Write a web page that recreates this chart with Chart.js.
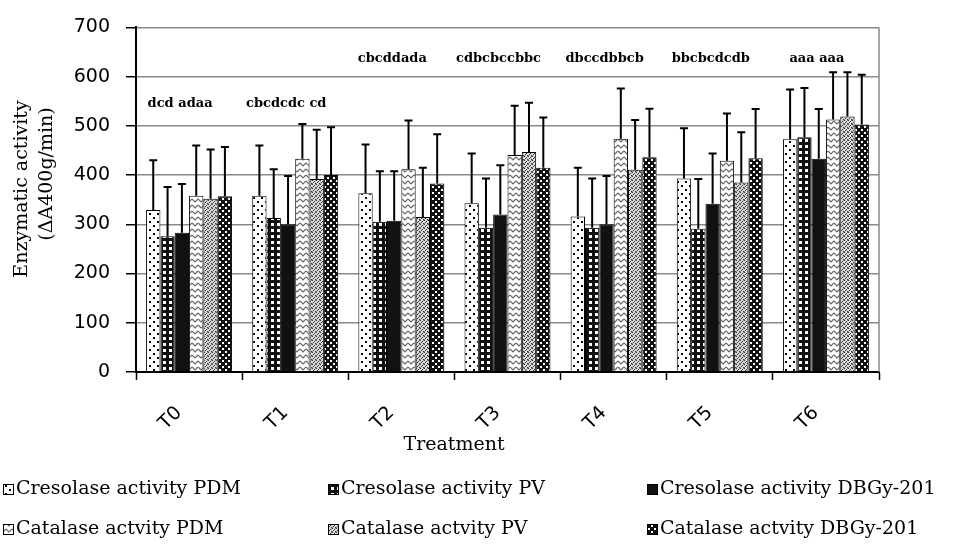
<!DOCTYPE html>
<html>
<head>
<meta charset="utf-8">
<script src="https://cdn.jsdelivr.net/npm/chart.js@4.4.1/dist/chart.umd.min.js"></script>
<style>
  body { margin: 0; background: #fff; }
  canvas { display: block; }
</style>
</head>
<body>
<canvas id="chart" width="963" height="544"></canvas>
<script>
var categories = ['T0', 'T1', 'T2', 'T3', 'T4', 'T5', 'T6'];
var seriesNames = [
  'Cresolase activity PDM', 'Cresolase activity PV', 'Cresolase activity DBGy-201',
  'Catalase actvity PDM', 'Catalase actvity PV', 'Catalase actvity DBGy-201'
];

// means
var cresolasePDM  = [329, 358, 363, 343, 316, 393, 473];
var cresolasePV   = [276, 313, 305, 293, 293, 291, 477];
var cresolaseDBGy = [283, 300, 307, 320, 300, 342, 433];
var catalasePDM   = [358, 433, 412, 441, 474, 429, 513];
var catalasePV    = [352, 392, 315, 447, 411, 385, 519];
var catalaseDBGy  = [357, 400, 383, 415, 436, 434, 503];

// upper error bar lengths
var sdCresolasePDM  = [101, 102, 99, 101, 99, 102, 101];
var sdCresolasePV   = [100, 99, 103, 100, 100, 101, 100];
var sdCresolaseDBGy = [99, 98, 101, 100, 98, 102, 101];
var sdCatalasePDM   = [102, 71, 99, 100, 102, 96, 96];
var sdCatalasePV    = [100, 100, 100, 100, 101, 102, 90];
var sdCatalaseDBGy  = [100, 97, 100, 102, 99, 100, 101];

// significance letters above each treatment
var letterLabels = ['dcd adaa', 'cbcdcdc cd', 'cbcddada', 'cdbcbccbbc', 'dbccdbbcb', 'bbcbcdcdb', 'aaa aaa'];
var letterLevels = [545, 545, 636, 636, 636, 636, 636];

function makePattern(size, bg, draw) {
  var c = document.createElement('canvas');
  c.width = size; c.height = size;
  var g = c.getContext('2d');
  g.fillStyle = bg;
  g.fillRect(0, 0, size, size);
  draw(g);
  return g.createPattern(c, 'repeat');
}

var fills = [
  makePattern(8, '#fff', function(g){
    g.fillStyle = '#000';
    g.fillRect(1, 1, 2, 2);
    g.fillRect(5, 5, 2, 2);
  }),
  makePattern(6, '#111', function(g){
    g.fillStyle = '#fff';
    g.fillRect(1, 1, 3, 3);
  }),
  '#111',
  makePattern(6, '#fff', function(g){
    g.strokeStyle = '#666';
    g.lineWidth = 1.2;
    g.beginPath();
    g.moveTo(0, 1); g.lineTo(3, 4); g.lineTo(6, 1);
    g.stroke();
  }),
  makePattern(4, '#ddd', function(g){
    g.fillStyle = '#333';
    g.fillRect(0, 0, 1, 1);
    g.fillRect(2, 1, 1, 1);
    g.fillRect(1, 2, 1, 1);
    g.fillRect(3, 3, 1, 1);
    g.fillStyle = '#888';
    g.fillRect(3, 0, 1, 1);
    g.fillRect(0, 3, 1, 1);
  }),
  makePattern(6, '#111', function(g){
    g.fillStyle = '#fff';
    g.fillRect(0, 0, 2, 2);
    g.fillRect(3, 3, 2, 2);
  })
];

var values = [cresolasePDM, cresolasePV, cresolaseDBGy, catalasePDM, catalasePV, catalaseDBGy];
var errors = [sdCresolasePDM, sdCresolasePV, sdCresolaseDBGy, sdCatalasePDM, sdCatalasePV, sdCatalaseDBGy];

var datasets = values.map(function(v, i){
  return {
    label: seriesNames[i],
    data: v,
    sd: errors[i],
    backgroundColor: fills[i],
    borderColor: '#000',
    borderWidth: 1,
    categoryPercentage: 0.81,
    barPercentage: 1.0
  };
});

var extras = {
  id: 'extras',
  afterDatasetsDraw: function(chart) {
    var ctx = chart.ctx;
    var y = chart.scales.y, x = chart.scales.x;
    var area = chart.chartArea;
    ctx.save();
    // right border
    ctx.strokeStyle = '#888';
    ctx.lineWidth = 1.5;
    ctx.beginPath();
    ctx.moveTo(area.right, area.top);
    ctx.lineTo(area.right, area.bottom);
    ctx.stroke();

    // error bars
    ctx.strokeStyle = '#000';
    ctx.lineWidth = 2;
    chart.data.datasets.forEach(function(ds, i){
      var meta = chart.getDatasetMeta(i);
      meta.data.forEach(function(bar, j){
        var top = y.getPixelForValue(ds.data[j] + ds.sd[j]);
        ctx.beginPath();
        ctx.moveTo(bar.x, bar.y);
        ctx.lineTo(bar.x, top);
        ctx.moveTo(bar.x - 4, top);
        ctx.lineTo(bar.x + 4, top);
        ctx.stroke();
      });
    });

    // letters
    ctx.fillStyle = '#000';
    ctx.font = 'bold 13px "DejaVu Serif"';
    ctx.textAlign = 'center';
    ctx.textBaseline = 'middle';
    letterLabels.forEach(function(t, i){
      ctx.fillText(t, x.getPixelForValue(i) - 9, y.getPixelForValue(letterLevels[i]));
    });
    ctx.restore();
  },
  afterDraw: function(chart) {
    var ctx = chart.ctx;
    ctx.save();
    ctx.fillStyle = '#000';
    ctx.font = '19px "DejaVu Serif"';
    ctx.textAlign = 'center';
    ctx.textBaseline = 'middle';

    // axis titles
    ctx.fillText('Treatment', 454, 445);
    ctx.save();
    ctx.translate(22, 189);
    ctx.rotate(-Math.PI / 2);
    ctx.fillText('Enzymatic activity', 0, 0);
    ctx.restore();
    ctx.save();
    ctx.translate(47, 174);
    ctx.rotate(-Math.PI / 2);
    ctx.fillText('(\u0394A400g/min)', 0, 0);
    ctx.restore();

    // legend, 3 columns x 2 rows
    var colX = [3, 328, 647];
    var rowY = [489, 529];
    ctx.textAlign = 'left';
    chart.data.datasets.forEach(function(ds, i){
      var bx = colX[i % 3], by = rowY[Math.floor(i / 3)];
      ctx.fillStyle = ds.backgroundColor;
      ctx.fillRect(bx, by - 5, 10, 10);
      ctx.strokeStyle = '#000';
      ctx.lineWidth = 1;
      ctx.strokeRect(bx + 0.5, by - 4.5, 10, 10);
      ctx.fillStyle = '#000';
      ctx.fillText(ds.label, bx + 13, by);
    });
    ctx.restore();
  }
};

var ctx = document.getElementById('chart');
var myChart = new Chart(ctx, {
  type: 'bar',
  data: {
    labels: categories,
    datasets: datasets
  },
  options: {
    responsive: false,
    animation: false,
    devicePixelRatio: 1,
    layout: { padding: { left: 0, top: 23, right: 84, bottom: 0 } },
    plugins: {
      legend: { display: false },
      tooltip: { enabled: false }
    },
    scales: {
      x: {
        grid: { drawOnChartArea: false, tickLength: 8, tickColor: '#000', tickWidth: 1.5 },
        border: { color: '#000', width: 2 },
        ticks: {
          color: '#000',
          font: { family: '"DejaVu Sans"', size: 19 },
          minRotation: 45,
          maxRotation: 45,
          padding: 22,
          labelOffset: -10
        },
        afterFit: function(scale){ scale.height = 172; }
      },
      y: {
        min: 0,
        max: 700,
        grid: { color: '#8a8a8a', lineWidth: 1.5, tickLength: 10, tickColor: '#000' },
        border: { color: '#000', width: 2 },
        ticks: {
          stepSize: 100,
          color: '#000',
          font: { family: '"DejaVu Sans"', size: 19 },
          padding: 16
        },
        afterFit: function(scale){ scale.width = 136; }
      }
    }
  },
  plugins: [extras]
});
</script>
</body>
</html>
